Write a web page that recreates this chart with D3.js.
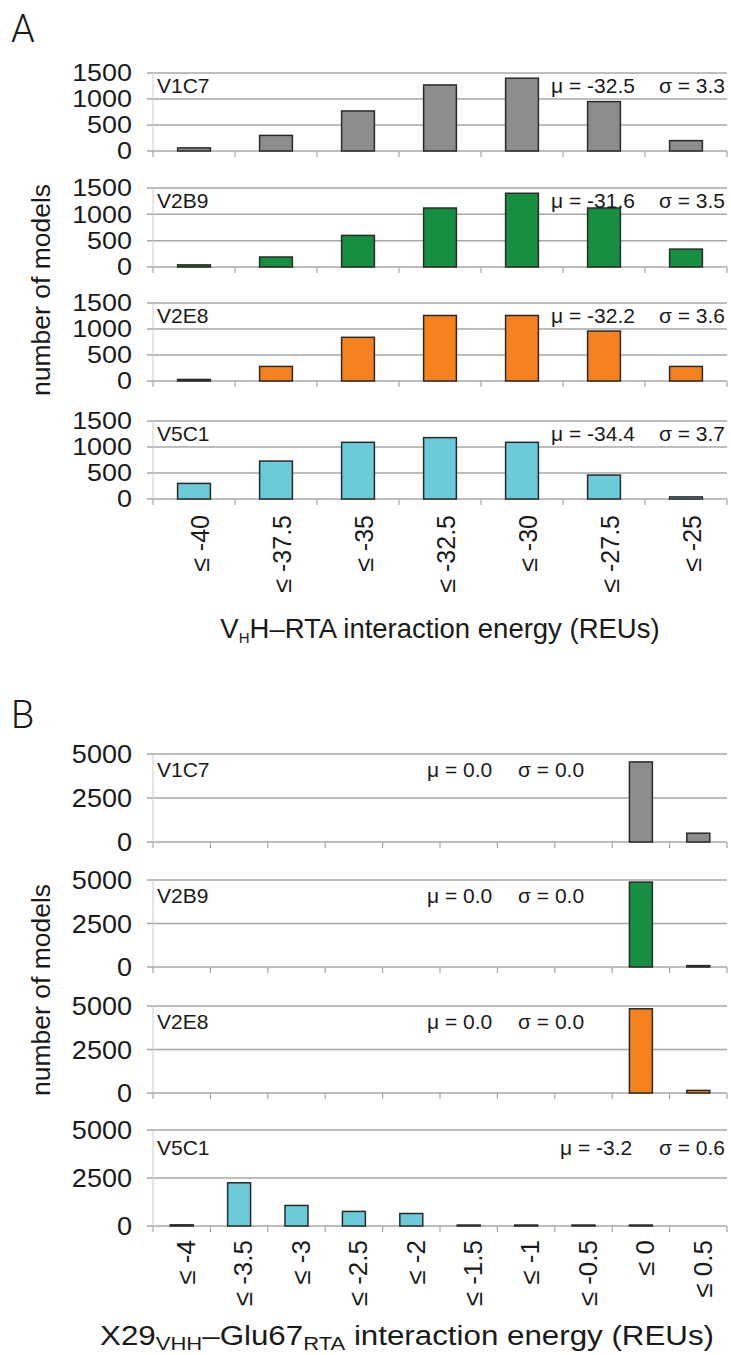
<!DOCTYPE html>
<html><head><meta charset="utf-8">
<script src="https://cdn.jsdelivr.net/npm/d3@7"></script>
<style>body{margin:0;background:#fff} text{font-family:"Liberation Sans",Arial,Helvetica,sans-serif;fill:#1a1a1a}</style>
</head><body><svg id="c" width="731" height="1355"></svg>
<script>
// ---------- data ----------
const names = ["V1C7", "V2B9", "V2E8", "V5C1"];
const colors = ["#8d8d8d", "#178f41", "#f5821f", "#6ccbd9"];

const catsA = ["≤ -40", "≤ -37.5", "≤ -35", "≤ -32.5", "≤ -30", "≤ -27.5", "≤ -25"];
const valsA_V1C7 = [60, 300, 770, 1270, 1400, 950, 200];
const valsA_V2B9 = [40, 190, 600, 1120, 1400, 1120, 340];
const valsA_V2E8 = [30, 280, 840, 1260, 1260, 960, 280];
const valsA_V5C1 = [300, 730, 1090, 1180, 1090, 460, 40];
const muA = ["μ = -32.5", "μ = -31.6", "μ = -32.2", "μ = -34.4"];
const sigmaA = ["σ = 3.3", "σ = 3.5", "σ = 3.6", "σ = 3.7"];
const ticksA = [0, 500, 1000, 1500];

const catsB = ["≤ -4", "≤ -3.5", "≤ -3", "≤ -2.5", "≤ -2", "≤ -1.5", "≤ -1", "≤ -0.5", "≤ 0", "≤ 0.5"];
const valsB_V1C7 = [0, 0, 0, 0, 0, 0, 0, 0, 4550, 500];
const valsB_V2B9 = [0, 0, 0, 0, 0, 0, 0, 0, 4880, 80];
const valsB_V2E8 = [0, 0, 0, 0, 0, 0, 0, 0, 4840, 150];
const valsB_V5C1 = [60, 2250, 1070, 760, 650, 50, 50, 50, 50, 0];
const muB = ["μ = 0.0", "μ = 0.0", "μ = 0.0", "μ = -3.2"];
const sigmaB = ["σ = 0.0", "σ = 0.0", "σ = 0.0", "σ = 0.6"];
const ticksB = [0, 2500, 5000];

// ---------- layout ----------
const X0 = 153, X1 = 727;
const layoutA = {tops: [73, 188, 303, 421], heights: [78, 79, 78, 78], max: 1500};
const layoutB = {tops: [754, 880, 1006, 1130], heights: [88, 87, 87, 96], max: 5000};

const svg = d3.select("#c");

function drawPanel(cats, vals, color, top, h, max, ticks, name, mu, sigma, opts) {
  const x = d3.scaleBand().domain(cats).range([X0, X1]).paddingInner(0.6).paddingOuter(0.3);
  const y = d3.scaleLinear().domain([0, max]).range([top + h, top]);
  const g = svg.append("g");
  const step = x.step();
  // gridlines
  g.selectAll(".grid").data(ticks).join("line")
    .attr("x1", X0 - 6).attr("x2", X1).attr("y1", d => y(d)).attr("y2", d => y(d))
    .attr("stroke", "#a8a8a8").attr("stroke-width", 1.5);
  // left axis line
  g.append("line").attr("x1", X0).attr("x2", X0).attr("y1", top).attr("y2", top + h)
    .attr("stroke", "#cccccc").attr("stroke-width", 1);
  // category boundary ticks
  g.selectAll(".tk").data(d3.range(cats.length + 1)).join("line")
    .attr("x1", i => i === cats.length ? X1 : x(cats[i]) - step * 0.3)
    .attr("x2", i => i === cats.length ? X1 : x(cats[i]) - step * 0.3)
    .attr("y1", y(0)).attr("y2", y(0) + 6)
    .attr("stroke", "#a8a8a8").attr("stroke-width", 1.2);
  // tick labels
  g.selectAll(".tl").data(ticks).join("text")
    .attr("transform", d => `translate(132,${y(d)}) scale(${opts.tickScale},1)`)
    .attr("dy", "0.36em")
    .attr("text-anchor", "end").style("font-size", opts.tickFont + "px")
    .text(d => d);
  // bars
  g.selectAll(".bar").data(vals.map((v, i) => ({v, c: cats[i]})).filter(d => d.v > 0)).join("rect")
    .attr("x", d => x(d.c)).attr("width", x.bandwidth())
    .attr("y", d => y(d.v)).attr("height", d => y(0) - y(d.v))
    .attr("fill", color).attr("stroke", "#2a2a2a").attr("stroke-width", 1.5);
  // labels
  g.append("text").attr("x", 157).attr("y", top + opts.labelDy)
    .style("font-size", opts.labFont + "px").text(name);
  g.append("text").attr("x", opts.muX).attr("y", top + opts.labelDy)
    .style("font-size", opts.labFont + "px").text(mu);
  g.append("text").attr("x", opts.sigX).attr("y", top + opts.labelDy)
    .attr("text-anchor", opts.sigAnchor).style("font-size", opts.labFont + "px").text(sigma);
  return {x, y};
}

function drawXLabels(x, cats, y0, font, off) {
  svg.append("g").selectAll("text").data(cats).join("text")
    .attr("transform", d => `translate(${x(d) + x.bandwidth() / 2 + off},${y0}) rotate(-90)`)
    .attr("text-anchor", "end").attr("dy", "0.36em")
    .style("font-size", font + "px").text(d => d);
}

// ---------- Panel A ----------
const valsA = [valsA_V1C7, valsA_V2B9, valsA_V2E8, valsA_V5C1];
let lastA;
names.forEach((n, i) => {
  lastA = drawPanel(catsA, valsA[i], colors[i], layoutA.tops[i], layoutA.heights[i], layoutA.max, ticksA,
    n, muA[i], sigmaA[i], {tickFont: 23, tickScale: 1.17, labFont: 21, labelDy: 20, muX: 551, sigX: 725, sigAnchor: "end"});
});
drawXLabels(lastA.x, catsA, 498 + 17, 25, 6);

svg.append("text").attr("x", 11).attr("y", 42).style("font-family", "Roboto, 'Liberation Sans', sans-serif")
  .style("font-size", "38px").style("font-weight", 300).text("A");
svg.append("text").attr("transform", `translate(50,290) rotate(-90)`)
  .attr("text-anchor", "middle").style("font-size", "26.5px").text("number of models");
const tA = svg.append("text").attr("x", 440).attr("y", 638).attr("text-anchor", "middle").style("font-size", "27.5px");
tA.append("tspan").text("V");
tA.append("tspan").attr("dy", 5).style("font-size", "15px").text("H");
tA.append("tspan").attr("dy", -5).text("H–RTA interaction energy (REUs)");

// ---------- Panel B ----------
const valsB = [valsB_V1C7, valsB_V2B9, valsB_V2E8, valsB_V5C1];
let lastB;
names.forEach((n, i) => {
  const last = i === 3;
  lastB = drawPanel(catsB, valsB[i], colors[i], layoutB.tops[i], layoutB.heights[i], layoutB.max, ticksB,
    n, muB[i], sigmaB[i], {tickFont: 26, tickScale: 1.04, labFont: 21, labelDy: last ? 25 : 23,
      muX: last ? 560 : 427, sigX: last ? 725 : 518, sigAnchor: last ? "end" : "start"});
});
drawXLabels(lastB.x, catsB, 1226 + 14, 26, 4);

svg.append("text").attr("x", 11).attr("y", 728).style("font-family", "Roboto, 'Liberation Sans', sans-serif")
  .style("font-size", "38px").style("font-weight", 300).text("B");
svg.append("text").attr("transform", `translate(50,990) rotate(-90)`)
  .attr("text-anchor", "middle").style("font-size", "26.5px").text("number of models");
const tBg = svg.append("g").attr("transform", "translate(407,1345) scale(1.16,1)");
const tB = tBg.append("text").attr("x", 0).attr("y", 0).attr("text-anchor", "middle").style("font-size", "27px");
tB.append("tspan").text("X29");
tB.append("tspan").attr("dy", 5).style("font-size", "19px").text("VHH");
tB.append("tspan").attr("dy", -5).text("–Glu67");
tB.append("tspan").attr("dy", 5).style("font-size", "19px").text("RTA");
tB.append("tspan").attr("dy", -5).text(" interaction energy (REUs)");
</script></body></html>
